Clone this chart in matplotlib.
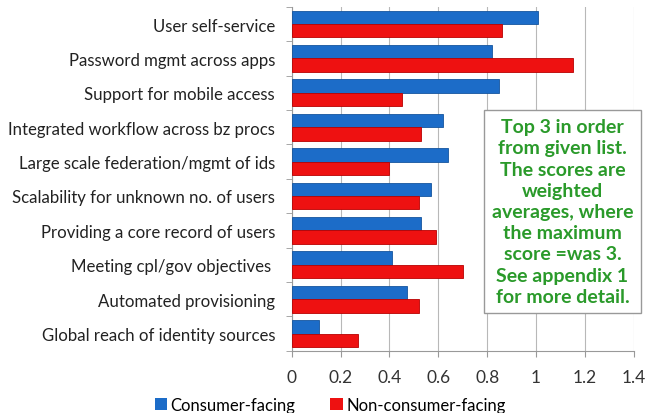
import numpy as np
import matplotlib
matplotlib.use("Agg")
import matplotlib.pyplot as plt
from matplotlib.patches import Patch

plt.rcParams['font.family'] = ['Lato', 'DejaVu Sans']

categories = ['User self-service', 'Password mgmt across apps', 'Support for mobile access',
              'Integrated workflow across bz procs', 'Large scale federation/mgmt of ids',
              'Scalability for unknown no. of users', 'Providing a core record of users',
              'Meeting cpl/gov objectives ', 'Automated provisioning',
              'Global reach of identity sources']
consumer = [1.01, 0.82, 0.85, 0.62, 0.64, 0.57, 0.53, 0.41, 0.47, 0.11]
non_consumer = [0.86, 1.15, 0.45, 0.53, 0.40, 0.52, 0.59, 0.70, 0.52, 0.27]
xticks = [0, 0.2, 0.4, 0.6, 0.8, 1, 1.2, 1.4]
note = ("Top 3 in order\nfrom given list.\nThe scores are\nweighted\naverages, where\n"
        "the maximum\nscore =was 3.\nSee appendix 1\nfor more detail.")

blue = '#1c6cc8'
red = '#ee1111'

fig = plt.figure(figsize=(6.46, 4.14), dpi=100)
ax = fig.add_axes([0.4515, 0.1505, 0.5295, 0.8305])

y = np.arange(len(categories))
h = 0.39
ax.barh(y - h / 2, consumer, height=h, color=blue, edgecolor='#15559e', linewidth=0.6, zorder=3)
ax.barh(y + h / 2, non_consumer, height=h, color=red, edgecolor='#b80000', linewidth=0.6, zorder=3)

ax.set_ylim(len(categories) - 0.5, -0.5)
ax.set_xlim(0, 1.4)
ax.set_xticks(xticks)
ax.set_xticklabels([('%g' % t) for t in xticks], fontsize=12.5, color='#333333')
ax.set_yticks(y)
ax.set_yticklabels(categories, fontsize=12.1, color='#222222')
ax.set_yticks(np.arange(len(categories) + 1) - 0.5, minor=True)
ax.tick_params(axis='y', which='major', length=0, pad=12)
ax.tick_params(axis='y', which='minor', length=4, color='#999999')
ax.tick_params(axis='x', length=4, color='#999999', pad=9)

ax.grid(axis='x', color='#b8b8b8', linewidth=0.8, zorder=0)
for s in ['top', 'right']:
    ax.spines[s].set_visible(False)
for s in ['left', 'bottom']:
    ax.spines[s].set_color('#999999')

fig.text(0.8707, 0.4867, note, ha='center', va='center', fontsize=14, fontweight='bold',
         color='#2a9a2a', linespacing=1.3,
         bbox=dict(boxstyle='square,pad=0.4', facecolor='white', edgecolor='#999999', linewidth=1))

handles = [Patch(facecolor=blue, label='Consumer-facing'),
           Patch(facecolor=red, label='Non-consumer-facing')]
fig.legend(handles=handles, loc='center', bbox_to_anchor=(0.511, 0.02), ncol=2,
           frameon=False, fontsize=12, handlelength=0.75, handleheight=0.75,
           handletextpad=0.2, columnspacing=2.1, borderpad=0)

fig.savefig('out.png', dpi=100)
